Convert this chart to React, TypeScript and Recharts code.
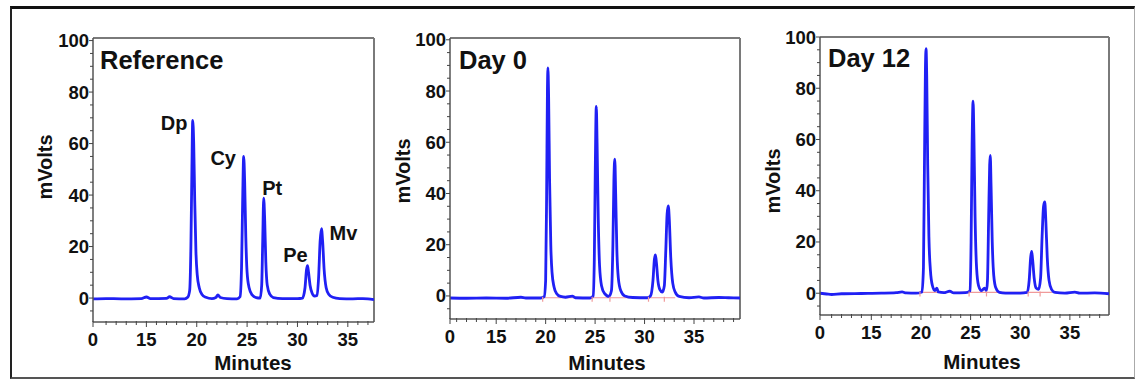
import React from "react";
import { ComposedChart, Line, XAxis, YAxis, ReferenceLine, Scatter } from "recharts";

// ---------- tick labels ----------
const xTickLabels = ["0", "15", "20", "25", "30", "35"];
const xMajorTicks = [15, 20, 25, 30, 35];
const yMajorTicks = [0, 20, 40, 60, 80, 100];

// ---------- Reference chromatogram ----------
const referenceTime = [
  9.7, 11, 12.5, 14.5, 15.0, 15.4, 17.0, 17.3, 17.7, 18.8, 19.1, 19.3, 19.42, 19.52, 19.6, 19.7, 19.8, 19.92,
  20.05, 20.25, 20.5, 20.9, 21.5, 21.9, 22.1, 22.35, 23.0, 24.0, 24.3, 24.45, 24.56, 24.66, 24.76, 24.87, 25.0,
  25.2, 25.5, 25.9, 26.3, 26.45, 26.55, 26.65, 26.75, 26.86, 27.0, 27.25, 27.6, 28.5, 30.0, 30.5, 30.75, 30.9,
  31.0, 31.1, 31.25, 31.45, 31.7, 31.95, 32.1, 32.25, 32.38, 32.5, 32.65, 32.85, 33.1, 33.5, 34.2, 35.5, 36.5,
  37.0, 37.6,
];
const referenceMv = [
  -0.3, -0.2, -0.3, -0.2, 0.4, -0.2, -0.1, 0.5, -0.2, -0.3, 0.3, 3, 20, 50, 69, 60, 38, 18,
  9, 4, 1.5, 0.3, -0.2, 0.2, 1.2, 0.2, -0.2, -0.3, 0.5, 12, 38, 55, 45, 24, 10,
  4, 1.2, 0.2, 0, 5, 22, 38.8, 30, 14, 5, 1.5, 0.2, -0.2, -0.2, 0, 4, 11,
  12.6, 10, 5, 2, 0.8, 1, 8, 22, 27, 22, 11, 4, 1.5, 0.3, -0.2, -0.3, -0.2,
  -0.3, -0.6,
];

// ---------- Day 0 chromatogram ----------
const day0Time = [
  10.33, 12, 14, 16, 17.5, 18, 19.5, 19.85, 20.0, 20.1, 20.18, 20.23, 20.3, 20.4, 20.52, 20.65, 20.85, 21.1,
  21.5, 22.0, 22.7, 23.0, 24.5, 24.8, 24.92, 25.02, 25.12, 25.2, 25.32, 25.45, 25.65, 25.95, 26.4, 26.65, 26.8,
  26.9, 26.99, 27.08, 27.2, 27.35, 27.6, 28.0, 28.8, 30.3, 30.6, 30.85, 31.0, 31.1, 31.2, 31.35, 31.55, 31.8,
  32.0, 32.15, 32.28, 32.4, 32.5, 32.65, 32.85, 33.1, 33.5, 34.5, 35.5, 36, 37.5, 38.5, 39.65,
];
const day0Mv = [
  -0.8, -0.9, -0.8, -0.9, -0.5, -0.8, -0.8, -0.3, 6, 40, 80, 89, 78, 45, 20, 9, 3.5, 1,
  -0.2, -0.5, -0.1, -0.7, -0.8, 0, 14, 50, 74, 60, 30, 12, 4, 1, -0.2, 2, 20,
  45, 53.4, 40, 18, 7, 2, 0, -0.6, -0.7, 0, 6, 14.5, 16, 13, 6, 2.5, 1.5,
  4, 18, 32, 35.2, 30, 15, 5, 1.5, -0.2, -0.7, -0.4, -0.8, -0.6, -0.7, -0.8,
];

// ---------- Day 12 chromatogram ----------
const day12Time = [
  9.83, 10.5, 11.0, 12, 14, 16, 17.5, 18.1, 18.5, 19.5, 20.1, 20.25, 20.35, 20.45, 20.51, 20.58, 20.68, 20.8,
  20.95, 21.15, 21.4, 21.6, 21.75, 22.3, 22.9, 23.3, 24.5, 24.95, 25.05, 25.15, 25.25, 25.33, 25.45, 25.6, 25.8,
  26.1, 26.4, 26.6, 26.7, 26.82, 26.92, 26.98, 27.06, 27.18, 27.33, 27.55, 27.9, 28.5, 30, 30.7, 30.9, 31.05,
  31.15, 31.25, 31.4, 31.6, 31.85, 32.05, 32.2, 32.35, 32.47, 32.58, 32.72, 32.9, 33.15, 33.5, 34.5, 35.5, 36,
  37.5, 38.94,
];
const day12Mv = [
  0, -0.3, -0.5, -0.2, -0.1, 0, 0.2, 0.5, 0.1, 0, 0.5, 10, 50, 88, 95.5, 85, 50, 22,
  9, 3, 1, 2, 0.5, 0.2, 0.8, 0.1, 0.2, 1, 20, 58, 75, 62, 30, 10, 3,
  1, 2, 1, 5, 30, 50, 53.8, 42, 20, 7, 2, 0.3, 0, 0, 0.3, 5, 14,
  16.3, 13, 6, 2, 1.5, 6, 22, 34, 35.6, 28, 14, 5, 1.5, 0.3, 0, 0.4, 0,
  0.1, -0.2,
];

// ---------- peak annotations (Reference) ----------
const peakNames = ["Dp", "Cy", "Pt", "Pe", "Mv"];
const referencePeakTime = [19.6, 24.66, 26.65, 31.0, 32.38];
const referencePeakMv = [69, 55, 38.8, 12.6, 27];

// ---------- integration baselines (red) ----------
const day0BaselineMv = -0.7;
const day0BoundaryTime = [19.7, 24.7, 26.5, 30.4, 32.0];
const day0BaselineEnd = 33.1;
const day12BaselineMv = 0.3;
const day12BoundaryTime = [19.9, 24.85, 26.6, 30.8, 32.0];
const day12BaselineEnd = 33.2;

// ---------- layout / style ----------
const FONT = '"Liberation Sans", Arial, Helvetica, sans-serif';
const BLUE = "#2020f4";
const RED = "#f09a9a";

const peakLabelOffset: Record<string, { dx: number; dy: number }> = {
  Dp: { dx: -18.5, dy: 10 },
  Cy: { dx: -20.5, dy: 8.5 },
  Pt: { dx: 8.5, dy: -3 },
  Pe: { dx: -12, dy: -4 },
  Mv: { dx: 22, dy: 11 },
};

type Layout = {
  L: number; R: number; T: number; B: number;
  xMin: number; xMax: number; yMin: number; yMax: number;
};

const layouts: Layout[] = [
  { L: 93, R: 374, T: 38, B: 322, xMin: 9.7, xMax: 37.6, yMin: -9.3, yMax: 101 },
  { L: 450, R: 740, T: 38, B: 319, xMin: 10.33, xMax: 39.65, yMin: -9, yMax: 100.7 },
  { L: 820, R: 1109, T: 37, B: 315, xMin: 9.83, xMax: 38.94, yMin: -8.5, yMax: 100 },
];

const titles = [
  { text: "Reference", x: 100, y: 69 },
  { text: "Day 0", x: 459, y: 69 },
  { text: "Day 12", x: 828, y: 67 },
];
const yTitles = [
  { x: 51.5, y: 167 },
  { x: 410, y: 171 },
  { x: 780, y: 181 },
];
const xTitles = [
  { x: 253, y: 370 },
  { x: 607, y: 370 },
  { x: 982, y: 369 },
];

type PanelProps = {
  lay: Layout;
  time: number[];
  mv: number[];
  peaks?: { t: number; v: number; name: string }[];
  baseline?: { v: number; bounds: number[]; end: number };
};

function Panel({ lay, time, mv, peaks, baseline }: PanelProps) {
  const data = time.map((t, i) => ({ t, v: mv[i] }));
  const majors = [lay.xMin, ...xMajorTicks];
  const xTicks: number[] = [lay.xMin];
  for (let m = Math.ceil(lay.xMin + 0.5); m <= Math.floor(lay.xMax); m++) xTicks.push(m);
  const yTicks: number[] = [];
  for (let v = -5; v <= 100; v += 5) if (v >= lay.yMin) yTicks.push(v);

  const plotW = lay.R - lay.L;
  const plotH = lay.B - lay.T;

  const XTick = (p: any) => {
    const val = p.payload.value;
    const idx = majors.findIndex((m) => Math.abs(m - val) < 1e-6);
    const major = idx >= 0;
    return (
      <g>
        <line x1={p.x} x2={p.x} y1={p.y - 1} y2={p.y + (major ? 5 : 3)} stroke="#444" strokeWidth={1} />
        {major && (
          <text x={p.x} y={p.y + 24} textAnchor="middle" fontFamily={FONT} fontWeight="bold" fontSize={18.5} fill="#111">
            {xTickLabels[idx]}
          </text>
        )}
      </g>
    );
  };
  const YTick = (p: any) => {
    const val = p.payload.value;
    const major = yMajorTicks.includes(val);
    return (
      <g>
        <line x1={p.x} x2={p.x - (major ? 4 : 3)} y1={p.y} y2={p.y} stroke="#444" strokeWidth={1} />
        {major && (
          <text x={p.x - 4} y={p.y + 6.5} textAnchor="end" fontFamily={FONT} fontWeight="bold" fontSize={18.5} fill="#111">
            {String(val)}
          </text>
        )}
      </g>
    );
  };

  return (
    <div style={{ position: "absolute", left: lay.L - 60, top: lay.T - 10 }}>
      <ComposedChart
        width={plotW + 70}
        height={plotH + 50}
        margin={{ top: 10, right: 10, bottom: 0, left: 0 }}
      >
        <XAxis
          dataKey="t"
          type="number"
          domain={[lay.xMin, lay.xMax]}
          allowDataOverflow
          ticks={xTicks}
          interval={0}
          height={40}
          tickSize={0}
          tickMargin={0}
          tickLine={false}
          axisLine={{ stroke: "#555", strokeWidth: 1.5 }}
          tick={XTick}
        />
        <YAxis
          dataKey="v"
          type="number"
          domain={[lay.yMin, lay.yMax]}
          allowDataOverflow
          ticks={yTicks}
          interval={0}
          width={60}
          tickSize={0}
          tickMargin={0}
          tickLine={false}
          axisLine={{ stroke: "#555", strokeWidth: 1.5 }}
          tick={YTick}
        />
        <ReferenceLine y={lay.yMax} stroke="#7a7a7a" strokeWidth={2} />
        <ReferenceLine x={lay.xMax} stroke="#7a7a7a" strokeWidth={2} />
        {baseline && (
          <ReferenceLine
            segment={[
              { x: baseline.bounds[0], y: baseline.v },
              { x: baseline.end, y: baseline.v },
            ]}
            stroke={RED}
            strokeWidth={1.2}
          />
        )}
        {baseline && (
          <Scatter
            data={baseline.bounds.map((t) => ({ t, v: baseline.v }))}
            dataKey="v"
            isAnimationActive={false}
            shape={(p: any) => (
              <line x1={p.cx} x2={p.cx} y1={p.cy - 1} y2={p.cy + 4} stroke={RED} strokeWidth={1.2} />
            )}
          />
        )}
        <Line
          data={data}
          dataKey="v"
          type="monotone"
          stroke={BLUE}
          strokeWidth={2.8}
          dot={false}
          activeDot={false}
          isAnimationActive={false}
        />
        {peaks && (
          <Scatter
            data={peaks}
            dataKey="v"
            isAnimationActive={false}
            shape={(p: any) => {
              const name = p.payload.name as string;
              const o = peakLabelOffset[name];
              return (
                <text
                  x={p.cx + o.dx}
                  y={p.cy + o.dy}
                  textAnchor="middle"
                  fontFamily={FONT}
                  fontWeight="bold"
                  fontSize={20}
                  fill="#111"
                >
                  {name}
                </text>
              );
            }}
          />
        )}
      </ComposedChart>
    </div>
  );
}

export default function App() {
  const refPeaks = peakNames.map((name, i) => ({ t: referencePeakTime[i], v: referencePeakMv[i], name }));
  return (
    <div style={{ position: "absolute", left: 0, top: 0, width: 1137, height: 380, background: "#fff", overflow: "hidden" }}>
      <div
        style={{
          position: "absolute",
          left: 10,
          top: 6,
          width: 1125,
          height: 373,
          boxSizing: "border-box",
          borderTop: "3px solid #111",
          borderLeft: "2px solid #222",
          borderBottom: "2px solid #555",
          borderRight: "1px solid #aaa",
        }}
      />
      <Panel lay={layouts[0]} time={referenceTime} mv={referenceMv} peaks={refPeaks} />
      <Panel
        lay={layouts[1]}
        time={day0Time}
        mv={day0Mv}
        baseline={{ v: day0BaselineMv, bounds: day0BoundaryTime, end: day0BaselineEnd }}
      />
      <Panel
        lay={layouts[2]}
        time={day12Time}
        mv={day12Mv}
        baseline={{ v: day12BaselineMv, bounds: day12BoundaryTime, end: day12BaselineEnd }}
      />
      <svg width={1137} height={380} style={{ position: "absolute", left: 0, top: 0, pointerEvents: "none" }}>
        {titles.map((t) => (
          <text key={t.text} x={t.x} y={t.y} fontFamily={FONT} fontWeight="bold" fontSize={25.5} fill="#111">
            {t.text}
          </text>
        ))}
        {yTitles.map((t, i) => (
          <text
            key={"y" + i}
            x={t.x}
            y={t.y}
            transform={`rotate(-90 ${t.x} ${t.y})`}
            textAnchor="middle"
            fontFamily={FONT}
            fontWeight="bold"
            fontSize={20}
            fill="#111"
          >
            mVolts
          </text>
        ))}
        {xTitles.map((t, i) => (
          <text key={"x" + i} x={t.x} y={t.y} textAnchor="middle" fontFamily={FONT} fontWeight="bold" fontSize={20.5} fill="#111">
            Minutes
          </text>
        ))}
      </svg>
    </div>
  );
}
